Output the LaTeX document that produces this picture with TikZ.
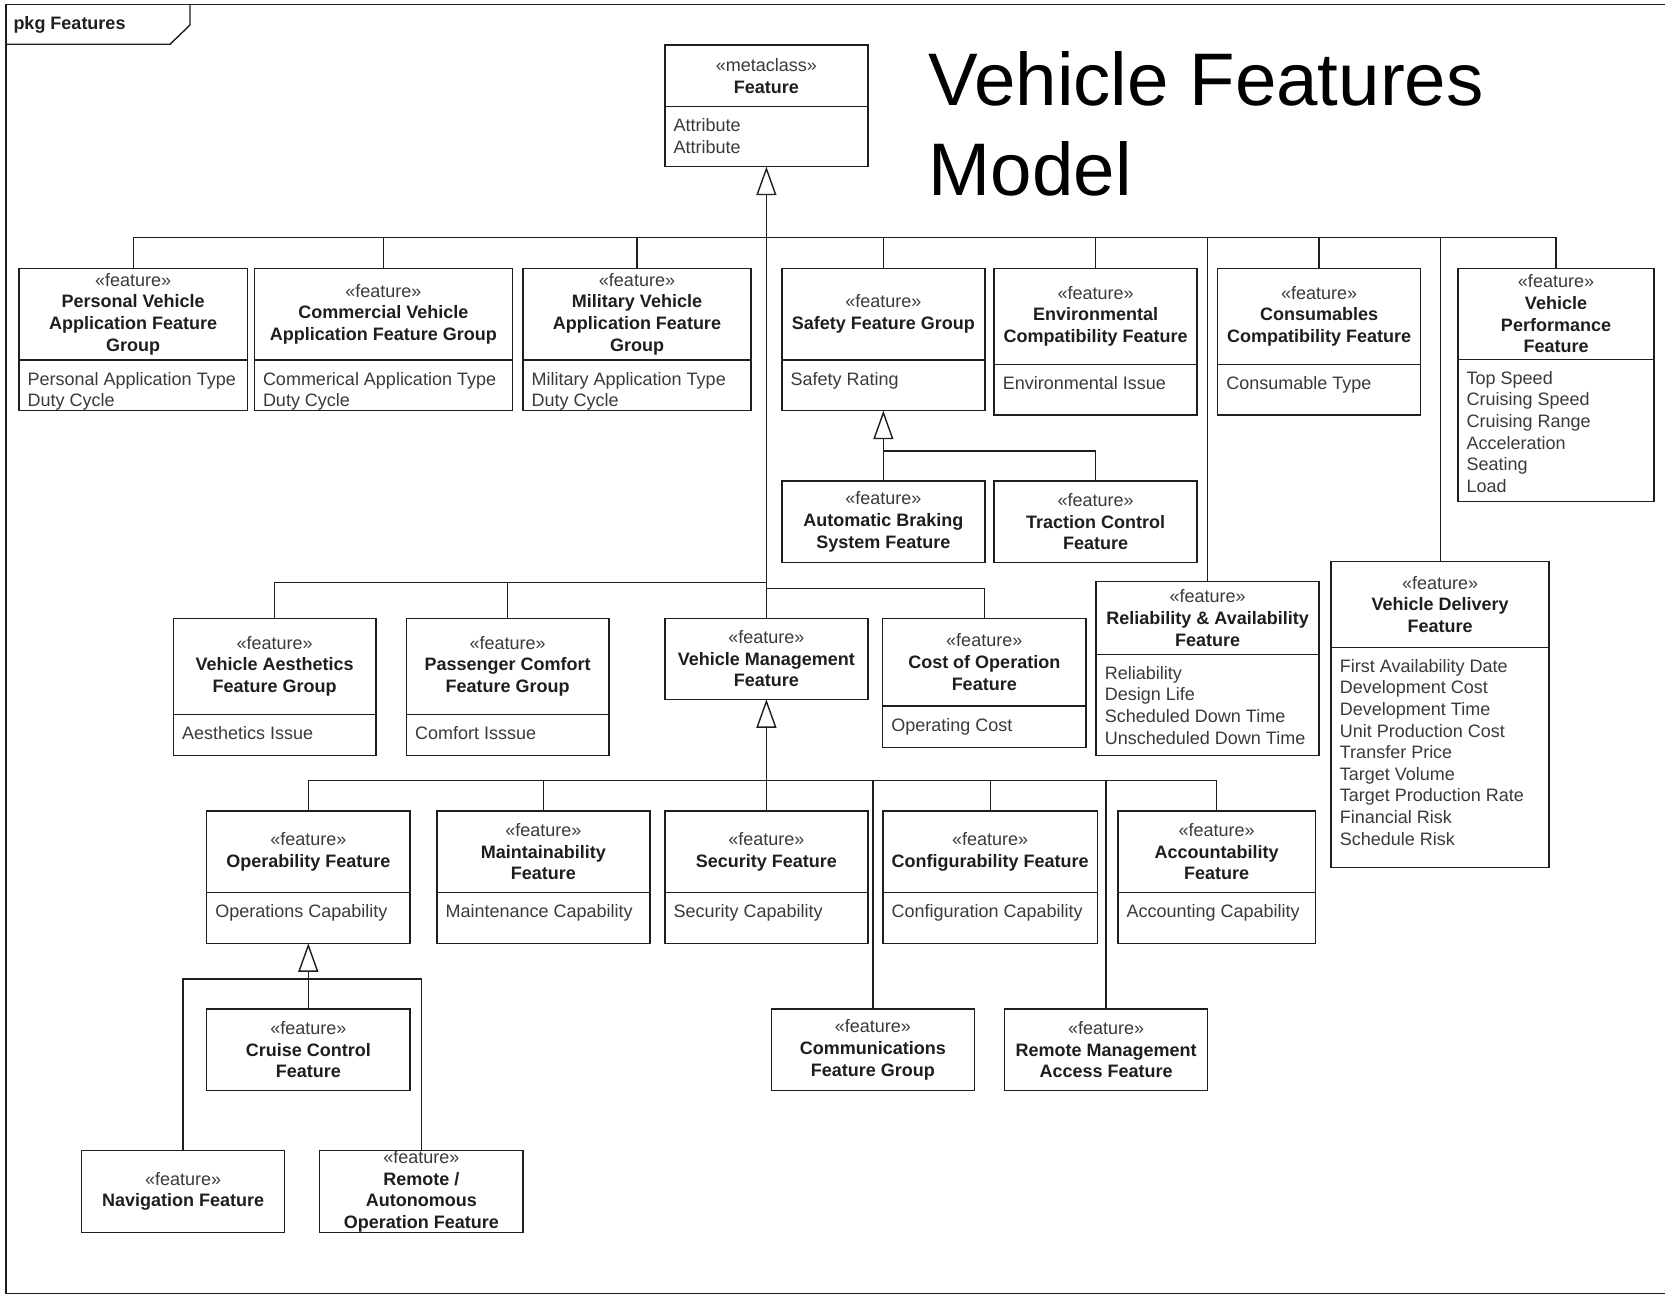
\documentclass[tikz,border=0pt]{standalone}
\usepackage{fontspec}
\setmainfont{Liberation Sans}
\usetikzlibrary{arrows.meta}

\definecolor{ink}{HTML}{1E1E1E}
\definecolor{txtgray}{HTML}{3A3A3A}

\newcommand\umlfont{\fontsize{18}{21.6}\selectfont}
\newcommand\stereo[1]{{\mdseries\color{txtgray}«#1»}}

\tikzset{
  boxshape/.style={draw=ink, line width=1.5pt, fill=white, inner sep=0pt, outer sep=0pt},
  divider/.style={draw=ink, line width=1.5pt},
  hdr/.style={font=\umlfont\bfseries, text=ink, align=center, inner sep=0pt},
  attr/.style={font=\umlfont, text=txtgray, align=left, inner sep=0pt, anchor=north west},
  conn/.style={draw=ink, line width=1.4pt},
  gen/.style={conn, -{Triangle[open, length=28.5pt, width=20pt]}},
}

% class box with a name compartment and an attribute compartment
% #1 name, #2 left, #3 top, #4 right, #5 divider, #6 bottom, #7 header, #8 attributes
\newcommand\featbox[8]{%
  \node[boxshape, anchor=north west, minimum width={#4-#2}, minimum height={#6-#3}] (#1) at (#2,#3) {};
  \draw[divider] (#2,#5) -- (#4,#5);
  \node[hdr] (#1-h) at ({(#2+#4)/2},{(#3+#5)/2}) {#7};
  \node[attr] (#1-a) at ({#2+8.5},{#5+10.8}) {\rule{0pt}{14pt}#8};
}
% class box with a name compartment only
% #1 name, #2 left, #3 top, #4 right, #5 bottom, #6 header
\newcommand\namebox[6]{%
  \node[boxshape, anchor=north west, minimum width={#4-#2}, minimum height={#5-#3}] (#1) at (#2,#3) {};
  \node[hdr] (#1-h) at ({(#2+#4)/2},{(#3+#5)/2}) {#6};
}

\begin{document}
\begin{tikzpicture}[x=1pt, y=-1pt]
\useasboundingbox (0,0) rectangle (1665,1297);

% package frame and its name tab
\draw[ink, line width=1.6pt] (1690,4.7) -- (5.7,4.7) -- (5.7,1293.3) -- (1690,1293.3);
\draw[ink, line width=1.4pt] (5.7,44.3) -- (170,44.3) -- (190,25) -- (190,4.7);
\node[font=\umlfont\bfseries, text=ink, anchor=base west, inner sep=0pt] (pkg) at (13.3,29.3) {pkg Features};

% title
\node[font=\fontsize{74.5}{90}\selectfont, text=black, align=left, anchor=north west, inner sep=0pt]
  (title) at (928.5,51.5) {\rule{0pt}{53.5pt}Vehicle Features\\Model};

% root metaclass
\featbox{feat}{664.8}{45}{868}{106.7}{166.7}{\stereo{metaclass}\\Feature}{Attribute\\Attribute}

% first row
\featbox{pv}{19}{268.3}{247.4}{360}{410.7}{\stereo{feature}\\Personal Vehicle\\Application Feature\\Group}{Personal Application Type\\Duty Cycle}
\featbox{cv}{254.3}{268.3}{512.6}{360}{410.7}{\stereo{feature}\\Commercial Vehicle\\Application Feature Group}{Commerical Application Type\\Duty Cycle}
\featbox{mv}{523}{268.3}{751}{360}{410.7}{\stereo{feature}\\Military Vehicle\\Application Feature\\Group}{Military Application Type\\Duty Cycle}
\featbox{sf}{781.9}{268.3}{984.8}{360}{410.7}{\stereo{feature}\\Safety Feature Group}{Safety Rating}
\featbox{env}{994.2}{268.3}{1197.2}{364.3}{415}{\stereo{feature}\\Environmental\\Compatibility Feature}{Environmental Issue}
\featbox{cons}{1217.6}{268.3}{1420.6}{364.3}{415}{\stereo{feature}\\Consumables\\Compatibility Feature}{Consumable Type}
\featbox{vp}{1458}{268.3}{1654}{359.3}{501.7}{\stereo{feature}\\Vehicle\\Performance\\Feature}{Top Speed\\Cruising Speed\\Cruising Range\\Acceleration\\Seating\\Load}

% safety specialisations
\namebox{abs}{781.9}{481}{984.8}{562.7}{\stereo{feature}\\Automatic Braking\\System Feature}
\namebox{tc}{994.2}{481}{1197.2}{562.7}{\stereo{feature}\\Traction Control\\Feature}

% right-hand long drops
\featbox{rel}{1096.2}{581.7}{1319.1}{654.3}{755.7}{\stereo{feature}\\Reliability \& Availability\\Feature}{Reliability\\Design Life\\Scheduled Down Time\\Unscheduled Down Time}
\featbox{vd}{1331.2}{561.7}{1549.2}{647.3}{867.3}{\stereo{feature}\\Vehicle Delivery\\Feature}{First Availability Date\\Development Cost\\Development Time\\Unit Production Cost\\Transfer Price\\Target Volume\\Target Production Rate\\Financial Risk\\Schedule Risk}

% second row
\featbox{aes}{173.4}{618.3}{376}{714.3}{755.7}{\stereo{feature}\\Vehicle Aesthetics\\Feature Group}{Aesthetics Issue}
\featbox{pc}{406.4}{618.3}{609}{714.3}{755.7}{\stereo{feature}\\Passenger Comfort\\Feature Group}{Comfort Isssue}
\namebox{vm}{664.8}{618.3}{868}{699.3}{\stereo{feature}\\Vehicle Management\\Feature}
\featbox{coo}{882.7}{618.3}{1085.8}{706}{747.3}{\stereo{feature}\\Cost of Operation\\Feature}{Operating Cost}

% vehicle management specialisations
\featbox{op}{206.7}{811}{409.9}{892.3}{943.3}{\stereo{feature}\\Operability Feature}{Operations Capability}
\featbox{mt}{436.9}{811}{649.8}{892.3}{943.3}{\stereo{feature}\\Maintainability\\Feature}{Maintenance Capability}
\featbox{sec}{664.8}{811}{868}{892.3}{943.3}{\stereo{feature}\\Security Feature}{Security Capability}
\featbox{cfg}{882.8}{811}{1097.6}{892.3}{943.3}{\stereo{feature}\\Configurability Feature}{Configuration Capability}
\featbox{acc}{1117.9}{811}{1315.4}{892.3}{943.3}{\stereo{feature}\\Accountability\\Feature}{Accounting Capability}
\namebox{com}{771.4}{1009}{974.5}{1090.7}{\stereo{feature}\\Communications\\Feature Group}
\namebox{rm}{1004.6}{1009}{1207.7}{1090.7}{\stereo{feature}\\Remote Management\\Access Feature}

% operability specialisations
\namebox{cc}{206.7}{1009}{409.9}{1090.7}{\stereo{feature}\\Cruise Control\\Feature}
\namebox{nav}{81.5}{1150.7}{284.7}{1232.3}{\stereo{feature}\\Navigation Feature}
\namebox{ra}{319.7}{1150.7}{523}{1232.3}{\stereo{feature}\\Remote /\\Autonomous\\Operation Feature}

% junctions on the generalisation trunks
\coordinate (j1) at (766.4,237.7);
\coordinate (j2l) at (766.4,582.7);
\coordinate (j2r) at (766.4,588.3);
\coordinate (j3) at (766.4,780.7);
\coordinate (j4) at (882.7,451);
\coordinate (j5) at (308.3,979);

% generalisations to Feature
\draw[gen] (vm.north) -- (feat.south);
\foreach \c in {pv,cv,mv,sf,env,cons,vp,rel,vd} \draw[conn] (\c.north) |- (j1);
\foreach \c in {aes,pc} \draw[conn] (\c.north) |- (j2l);
\draw[conn] (coo.north) |- (j2r);

% generalisations to Vehicle Management Feature
\draw[gen] (sec.north) -- (vm.south);
\foreach \c in {op,mt,com,cfg,rm,acc} \draw[conn] (\c.north) |- (j3);

% generalisations to Safety Feature Group
\draw[gen] (abs.north) -- (sf.south);
\draw[conn] (tc.north) |- (j4);

% generalisations to Operability Feature
\draw[gen] (cc.north) -- (op.south);
\foreach \c in {nav,ra} \draw[conn] (\c.north) |- (j5);

\end{tikzpicture}
\end{document}
